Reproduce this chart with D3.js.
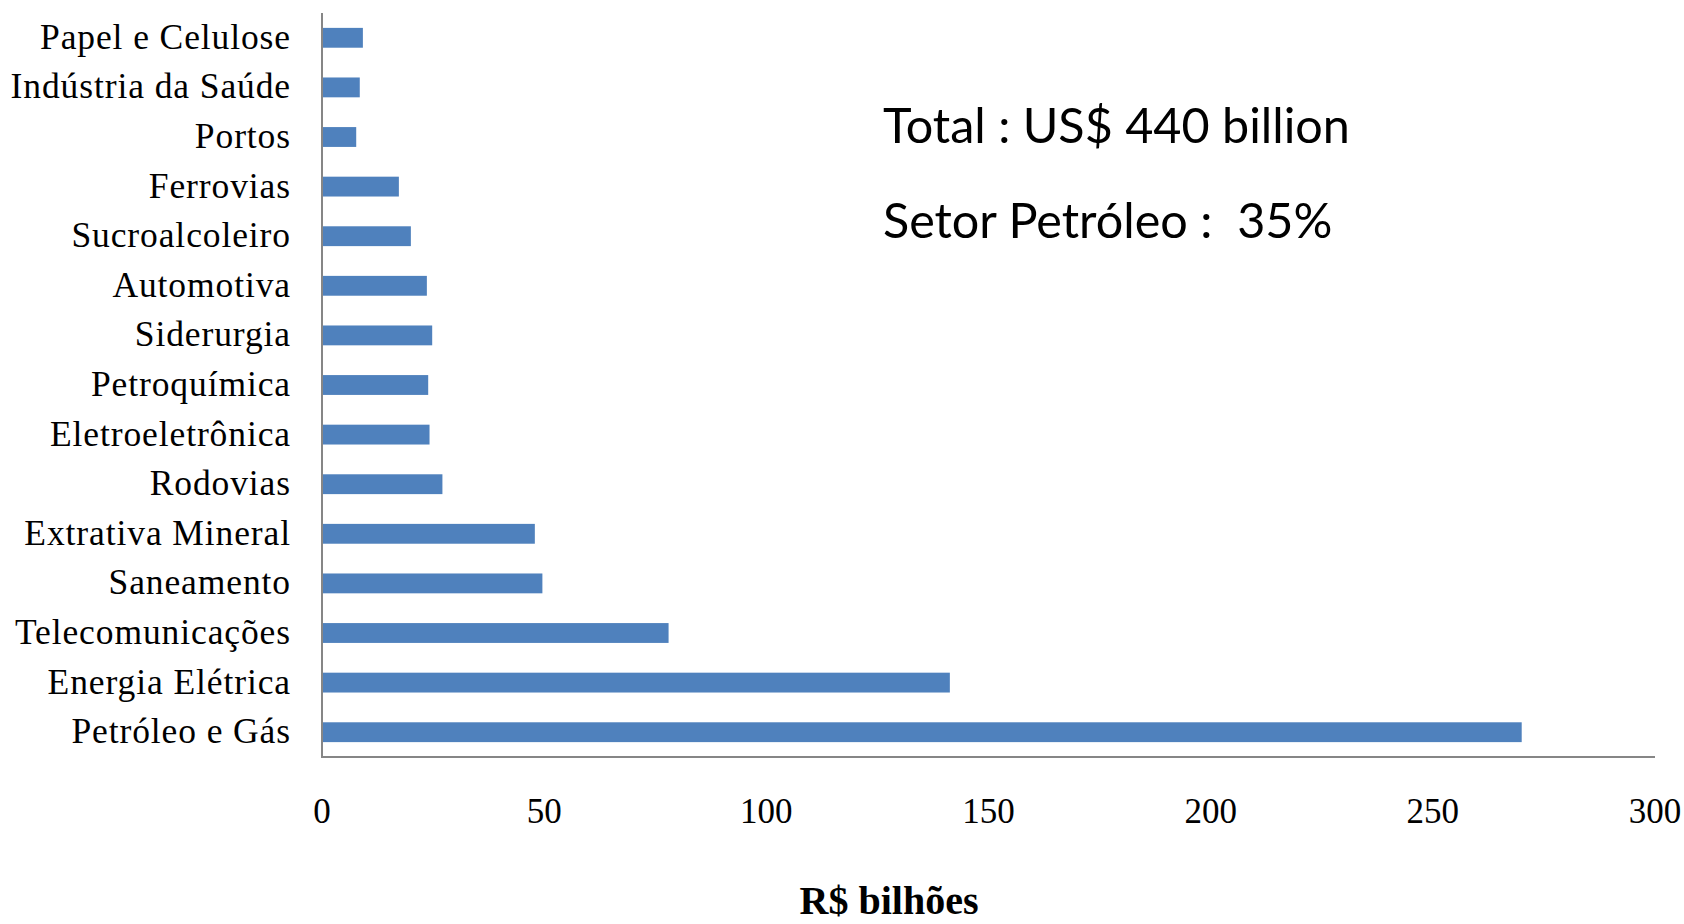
<!DOCTYPE html>
<html>
<head>
<meta charset="utf-8">
<script src="https://cdn.jsdelivr.net/npm/d3@7"></script>
<style>
  body { margin: 0; background: #fff; }
  svg { display: block; }
</style>
</head>
<body>
<svg id="chart" width="1684" height="924"></svg>
<script>
// sectors, top to bottom as in the picture
var sectors = ['Papel e Celulose', 'Indústria da Saúde', 'Portos', 'Ferrovias', 'Sucroalcoleiro',
  'Automotiva', 'Siderurgia', 'Petroquímica', 'Eletroeletrônica', 'Rodovias',
  'Extrativa Mineral', 'Saneamento', 'Telecomunicações', 'Energia Elétrica', 'Petróleo e Gás'];
var values = [9.2, 8.5, 7.7, 17.3, 20, 23.6, 24.8, 23.9, 24.2, 27.1, 47.9, 49.6, 78, 141.3, 270];
var xTicks = [0, 50, 100, 150, 200, 250, 300];
var xTitle = 'R$ bilhões';
var notes = ['Total : US$ 440 billion', 'Setor Petróleo :  35%'];

var svg = d3.select('#chart');
var plotL = 322, plotR = 1655, plotT = 13, plotB = 757;

var x = d3.scaleLinear().domain([0, 300]).range([plotL, plotR]);
var y = d3.scaleBand().domain(sectors).range([plotT, plotB]).paddingInner(0.6).paddingOuter(0.3);

// bars
svg.append('g').selectAll('rect').data(values).enter()
  .append('rect')
  .attr('x', x(0))
  .attr('y', function(d, i){ return y(sectors[i]); })
  .attr('width', function(d){ return x(d) - x(0); })
  .attr('height', y.bandwidth())
  .attr('fill', '#4F81BD');

// axis lines (no tick marks in the original)
svg.append('line').attr('x1', plotL).attr('x2', plotL).attr('y1', plotT).attr('y2', plotB)
  .attr('stroke', '#868686').attr('stroke-width', 2);
svg.append('line').attr('x1', plotL - 1).attr('x2', plotR).attr('y1', plotB).attr('y2', plotB)
  .attr('stroke', '#868686').attr('stroke-width', 2);

// category labels
svg.append('g').selectAll('text').data(sectors).enter()
  .append('text')
  .attr('x', 291)
  .attr('y', function(d){ return y(d) + y.bandwidth() / 2 + 11; })
  .attr('text-anchor', 'end')
  .attr('font-family', 'Liberation Serif, Times New Roman, serif')
  .attr('font-size', 35.5)
  .attr('letter-spacing', 0.9)
  .attr('fill', '#000')
  .text(function(d){ return d; });

// x tick labels
svg.append('g').selectAll('text').data(xTicks).enter()
  .append('text')
  .attr('x', function(d){ return x(d); })
  .attr('y', 823)
  .attr('text-anchor', 'middle')
  .attr('font-family', 'Liberation Serif, Times New Roman, serif')
  .attr('font-size', 35)
  .attr('fill', '#000')
  .text(function(d){ return d; });

// axis title
svg.append('text')
  .attr('x', 889).attr('y', 914)
  .attr('text-anchor', 'middle')
  .attr('font-family', 'Liberation Serif, Times New Roman, serif')
  .attr('font-weight', 'bold')
  .attr('font-size', 40)
  .text(xTitle);

// annotation
svg.append('g').selectAll('text').data(notes).enter()
  .append('text')
  .attr('x', 883)
  .attr('y', function(d, i){ return 143 + i * 95; })
  .attr('font-family', 'Lato, Noto Sans, sans-serif')
  .attr('font-size', 48.5)
  .attr('fill', '#000')
  .style('white-space', 'pre')
  .text(function(d){ return d; });
</script>
</body>
</html>
